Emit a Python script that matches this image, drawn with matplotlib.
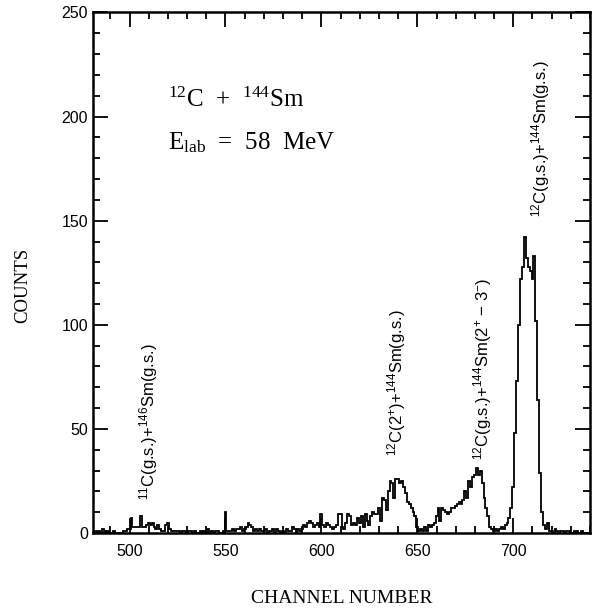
import numpy as np
import matplotlib
matplotlib.use('Agg')
import matplotlib.pyplot as plt
from matplotlib.ticker import MultipleLocator

# spectrum: counts per channel, starting at channel 480
first_channel = 480
counts = [
    0, 1, 0, 1, 1, 0, 2, 1, 0, 1,        # 480
    0, 0, 1, 0, 0, 0, 0, 1, 1, 2,        # 490
    2, 7, 3, 3, 3, 3, 8, 3, 3, 4,        # 500
    5, 4, 5, 3, 2, 4, 2, 1, 1, 4,        # 510
    5, 2, 1, 1, 1, 1, 1, 0, 1, 1,        # 520
    0, 1, 1, 0, 1, 0, 0, 1, 0, 1,        # 530
    0, 2, 0, 1, 0, 1, 1, 0, 0, 1,        # 540
    10, 1, 1, 1, 2, 1, 2, 2, 3, 1,       # 550
    2, 3, 5, 4, 3, 1, 2, 1, 2, 1,        # 560
    1, 2, 0, 1, 1, 2, 0, 2, 1, 0,        # 570
    1, 0, 2, 1, 1, 3, 2, 0, 2, 1,        # 580
    2, 4, 3, 5, 6, 5, 3, 4, 5, 3,        # 590
    9, 4, 3, 5, 4, 3, 2, 3, 4, 9,        # 600
    9, 3, 2, 5, 9, 8, 4, 5, 4, 7,        # 610
    5, 8, 3, 9, 6, 4, 8, 10, 9, 9,       # 620
    12, 6, 17, 16, 11, 20, 25, 24, 17, 26,   # 630
    26, 24, 25, 22, 19, 15, 14, 12, 10, 8,   # 640
    3, 1, 2, 1, 3, 1, 4, 3, 4, 5,        # 650
    8, 12, 6, 12, 11, 10, 9, 10, 12, 12,     # 660
    13, 14, 15, 14, 16, 20, 17, 25, 22, 27,  # 670
    28, 31, 28, 30, 24, 17, 12, 8, 3, 2,     # 680
    1, 2, 1, 2, 3, 2, 4, 5, 7, 12,       # 690
    22, 48, 73, 100, 122, 128, 142, 132, 128, 126,  # 700
    122, 133, 102, 64, 29, 10, 4, 2, 5, 1,   # 710
    1, 0, 2, 1, 0, 1, 1, 0, 1, 1,        # 720
    0, 0, 1, 1, 0, 0, 1, 0, 0, 0,        # 730
]

peak_labels = [r'$^{11}$C(g.s.)+$^{146}$Sm(g.s.)',
               r'$^{12}$C(2$^{+}$)+$^{144}$Sm(g.s.)',
               r'$^{12}$C(g.s.)+$^{144}$Sm(2$^{+}$ $-$ 3$^{-}$)',
               r'$^{12}$C(g.s.)+$^{144}$Sm(g.s.)']
peak_channels = [510, 639, 684, 714]
peak_label_y = [16, 37, 35, 152]

counts = np.array(counts)
edges = first_channel - 0.5 + np.arange(len(counts) + 1)

plt.rcParams['mathtext.default'] = 'regular'

fig = plt.figure(figsize=(5.93, 6.11), dpi=100)
ax = fig.add_axes([0.157, 0.1276, 0.838, 0.852])

ax.stairs(counts, edges, color='black', linewidth=1.3, baseline=None)

ax.set_xlim(481, 740)
ax.set_ylim(0, 250)
ax.xaxis.set_major_locator(MultipleLocator(50))
ax.xaxis.set_minor_locator(MultipleLocator(10))
ax.yaxis.set_major_locator(MultipleLocator(50))
ax.yaxis.set_minor_locator(MultipleLocator(10))
ax.tick_params(which='both', direction='in', top=True, right=True, width=1.3)
ax.tick_params(which='major', length=11)
ax.tick_params(which='minor', length=5)
for lab in ax.get_xticklabels() + ax.get_yticklabels():
    lab.set_fontfamily('Liberation Sans')
    lab.set_fontsize(11.5)
ax.tick_params(axis='x', pad=8)
for s in ax.spines.values():
    s.set_linewidth(1.8)

ax.set_xlabel('CHANNEL NUMBER', family='Liberation Serif', fontsize=14, labelpad=22)
ax.set_ylabel('COUNTS', family='Liberation Serif', fontsize=13.5)
ax.yaxis.set_label_coords(-0.125, 0.475)

ax.text(0.15, 0.832, r'$^{12}$C  +  $^{144}$Sm', transform=ax.transAxes,
        family='Liberation Serif', fontsize=18, ha='left', va='center')
ax.text(0.15, 0.75, r'E$_{lab}$  =  58  MeV', transform=ax.transAxes,
        family='Liberation Serif', fontsize=18, ha='left', va='center')

for lab, ch, yv in zip(peak_labels, peak_channels, peak_label_y):
    ax.text(ch, yv, lab, rotation=90, ha='center', va='bottom',
            family='Liberation Sans', fontsize=12)

fig.savefig('out.png', dpi=100)
